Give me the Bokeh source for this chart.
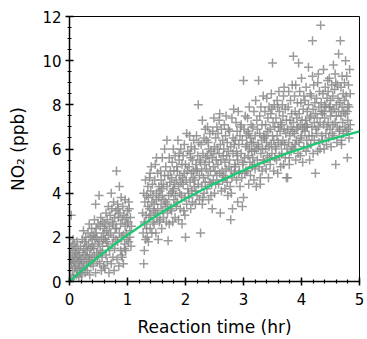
from bokeh.plotting import figure
from bokeh.models import Range1d, SingleIntervalTicker
from bokeh.embed import file_html
from bokeh.resources import INLINE

# ---- scatter data: segment A (0 - 1.1 hr)
xa = [0.01,0.02,0.03,0.03,0.04,0.05,0.05,0.06,0.07,0.07,0.08,0.09,0.09,0.10,0.02,0.06,
      0.11,0.11,0.12,0.13,0.13,0.14,0.15,0.15,0.16,0.17,0.17,0.18,0.19,0.19,0.20,
      0.21,0.21,0.22,0.23,0.23,0.24,0.25,0.25,0.26,0.27,0.27,0.28,0.29,0.29,0.30,
      0.31,0.31,0.32,0.33,0.33,0.34,0.35,0.35,0.36,0.37,0.37,0.38,0.39,0.39,0.40,0.34,
      0.41,0.41,0.42,0.43,0.43,0.44,0.45,0.45,0.46,0.47,0.47,0.48,0.49,0.49,0.50,0.44,
      0.51,0.51,0.52,0.53,0.53,0.54,0.55,0.55,0.56,0.57,0.57,0.58,0.59,0.59,0.60,0.56,
      0.61,0.61,0.62,0.63,0.63,0.64,0.65,0.65,0.66,0.67,0.67,0.68,0.69,0.69,0.70,0.64,
      0.71,0.72,0.72,0.73,0.74,0.74,0.75,0.76,0.76,0.77,0.78,0.78,0.79,0.80,0.80,0.75,
      0.81,0.81,0.82,0.83,0.83,0.84,0.85,0.86,0.86,0.87,0.88,0.88,0.89,0.90,0.90,0.84,
      0.91,0.91,0.92,0.93,0.93,0.94,0.95,0.96,0.96,0.97,0.98,0.98,0.99,1.00,1.00,0.95,
      1.01,1.02,1.03,1.04,1.05,1.06,1.07,1.02,1.04]
ya = [0.3,1.2,0.8,3.0,1.6,0.5,1.0,1.4,0.2,0.9,1.7,0.6,1.1,1.3,0.1,1.9,
      0.7,1.5,0.3,1.1,1.8,0.5,0.9,1.4,0.2,1.2,0.6,1.0,1.6,0.4,0.8,
      1.0,0.3,1.9,1.3,0.6,2.3,1.5,0.9,1.8,0.4,1.2,2.0,0.7,1.6,1.1,
      1.4,0.5,2.2,0.9,1.7,2.6,1.2,0.3,2.0,1.5,0.8,2.4,1.1,1.9,1.6,1.0,
      2.1,0.7,1.5,2.8,1.1,1.9,3.5,0.4,2.4,1.3,2.0,0.9,2.6,1.7,1.2,2.2,
      3.9,1.8,0.8,2.5,1.4,2.9,0.5,2.0,1.1,2.7,1.6,2.2,0.7,1.9,2.4,1.3,
      2.6,0.6,1.9,3.1,1.2,2.3,0.9,2.8,1.6,3.4,2.1,0.4,2.5,1.4,3.0,1.8,
      2.2,4.0,0.8,3.3,1.7,2.7,1.1,3.6,2.0,0.5,2.9,1.5,2.4,3.2,1.9,2.6,
      5.0,2.4,1.0,3.5,1.8,2.9,0.7,4.3,2.2,3.1,1.4,2.6,3.8,2.0,1.2,3.3,
      2.8,1.1,3.4,2.1,0.8,3.0,1.7,2.5,3.7,1.4,2.9,2.2,1.9,3.2,2.6,1.5,
      2.7,1.8,3.3,2.3,2.9,1.6,2.5,3.6,2.0]

# ---- segment B (1.25 - 2.55 hr)
xb = [1.26,1.27,1.28,1.28,1.29,1.29,1.30,1.31,1.31,1.32,1.33,1.33,1.34,1.35,1.35,1.30,
      1.36,1.36,1.37,1.38,1.38,1.39,1.40,1.40,1.41,1.42,1.42,1.43,1.44,1.44,1.45,1.39,
      1.46,1.46,1.47,1.48,1.48,1.49,1.50,1.50,1.51,1.52,1.52,1.53,1.54,1.54,1.55,1.50,
      1.56,1.56,1.57,1.58,1.58,1.59,1.60,1.60,1.61,1.62,1.62,1.63,1.64,1.64,1.65,1.59,
      1.66,1.66,1.67,1.68,1.68,1.69,1.70,1.70,1.71,1.72,1.72,1.73,1.74,1.74,1.75,1.69,
      1.76,1.76,1.77,1.78,1.78,1.79,1.80,1.80,1.81,1.82,1.82,1.83,1.84,1.84,1.85,1.79,
      1.86,1.86,1.87,1.88,1.88,1.89,1.90,1.90,1.91,1.92,1.92,1.93,1.94,1.94,1.95,1.89,
      1.96,1.96,1.97,1.98,1.98,1.99,2.00,2.00,2.01,2.02,2.02,2.03,2.04,2.04,2.05,1.99,
      2.06,2.06,2.07,2.08,2.08,2.09,2.10,2.10,2.11,2.12,2.12,2.13,2.14,2.14,2.15,2.09,
      2.16,2.16,2.17,2.18,2.18,2.19,2.20,2.20,2.21,2.22,2.22,2.23,2.24,2.24,2.25,2.19,
      2.26,2.26,2.27,2.28,2.28,2.29,2.30,2.30,2.31,2.32,2.32,2.33,2.34,2.34,2.35,2.29,
      2.36,2.36,2.37,2.38,2.38,2.39,2.40,2.40,2.41,2.42,2.42,2.43,2.44,2.44,2.45,2.39,
      2.46,2.46,2.47,2.48,2.48,2.49,2.50,2.50,2.51,2.52,2.52,2.53,2.54,2.54,2.55,2.49]
yb = [3.1,2.2,0.8,4.0,1.4,2.7,3.6,1.9,4.6,3.0,2.4,3.9,2.0,3.4,4.3,2.6,
      1.8,3.8,2.9,4.7,3.3,2.4,4.1,3.0,5.2,2.2,3.6,4.4,2.7,3.9,3.2,4.9,
      3.5,2.6,4.6,3.1,5.3,2.2,4.0,3.7,2.9,4.9,3.3,1.9,4.3,3.8,2.7,5.6,
      4.1,2.8,5.0,3.5,4.6,2.4,3.9,5.6,3.2,4.4,2.9,3.7,6.0,4.8,3.4,4.2,
      3.6,5.2,2.7,4.3,6.4,3.1,1.85,4.8,3.9,5.6,2.6,4.5,3.3,5.0,4.0,3.5,
      4.7,3.2,5.4,2.7,4.1,6.0,3.7,5.0,4.4,2.9,5.7,3.9,4.6,3.4,5.2,4.2,
      5.0,3.6,6.4,4.3,2.8,5.5,4.0,4.8,3.3,6.0,4.5,3.9,5.3,2.6,4.7,5.8,
      4.4,5.7,3.2,6.2,4.9,3.8,2.0,5.3,4.6,6.7,3.5,5.0,4.2,5.9,4.0,3.0,
      5.2,3.8,6.6,4.5,5.8,3.3,4.9,6.1,4.1,5.5,3.6,4.7,6.4,5.0,4.3,5.6,
      4.6,6.0,3.5,5.3,4.1,6.6,5.0,3.9,5.7,8.0,4.4,6.3,4.8,3.7,5.5,5.1,
      2.2,5.4,6.2,4.3,5.0,7.3,3.8,5.8,4.7,6.5,4.0,5.3,6.9,4.5,5.6,3.5,
      5.1,6.4,4.2,5.7,7.0,4.8,3.7,6.0,5.4,4.5,6.7,5.0,3.9,5.9,4.4,6.3,
      3.3,5.6,6.8,4.6,5.2,7.4,4.0,6.1,5.0,4.4,6.5,5.5,7.0,4.8,6.0,5.8]

# ---- segment C (2.55 - 3.75 hr)
xc = [2.56,2.56,2.57,2.58,2.58,2.59,2.60,2.60,2.61,2.62,2.62,2.63,2.64,2.64,2.65,2.59,
      2.66,2.66,2.67,2.68,2.68,2.69,2.70,2.70,2.71,2.72,2.72,2.73,2.74,2.74,2.75,2.69,
      2.76,2.76,2.77,2.78,2.78,2.79,2.80,2.80,2.81,2.82,2.82,2.83,2.84,2.84,2.85,2.79,
      2.86,2.86,2.87,2.88,2.88,2.89,2.90,2.90,2.91,2.92,2.92,2.93,2.94,2.94,2.95,2.89,
      2.96,2.96,2.97,2.98,2.98,2.99,3.00,3.00,3.01,3.02,3.02,3.03,3.04,3.04,3.05,2.99,
      3.06,3.06,3.07,3.08,3.08,3.09,3.10,3.10,3.11,3.12,3.12,3.13,3.14,3.14,3.15,3.09,
      3.16,3.16,3.17,3.18,3.18,3.19,3.20,3.20,3.21,3.22,3.22,3.23,3.24,3.24,3.25,3.19,
      3.26,3.26,3.27,3.28,3.28,3.29,3.30,3.30,3.31,3.32,3.32,3.33,3.34,3.34,3.35,3.29,
      3.36,3.36,3.37,3.38,3.38,3.39,3.40,3.40,3.41,3.42,3.42,3.43,3.44,3.44,3.45,3.39,
      3.46,3.46,3.47,3.48,3.48,3.49,3.50,3.50,3.51,3.52,3.52,3.53,3.54,3.54,3.55,3.49,
      3.56,3.56,3.57,3.58,3.58,3.59,3.60,3.60,3.61,3.62,3.62,3.63,3.64,3.64,3.65,3.59,
      3.66,3.66,3.67,3.68,3.68,3.69,3.70,3.70,3.71,3.72,3.72,3.73,3.74,3.74,3.75,3.69]
yc = [5.3,6.7,4.4,7.3,5.8,4.9,3.1,6.2,5.5,4.1,6.9,5.0,6.4,4.6,5.7,7.6,
      6.0,4.8,7.1,5.4,4.2,6.6,5.1,7.5,5.7,4.5,6.3,3.9,5.9,6.9,5.2,4.7,
      5.5,6.8,4.3,2.8,6.1,5.0,7.4,4.7,3.3,6.5,5.8,7.8,4.9,6.2,5.3,4.0,
      6.4,5.2,7.2,4.6,5.9,6.8,3.6,5.5,7.7,4.9,6.2,5.0,6.6,4.3,7.0,5.7,
      5.8,7.1,4.7,3.4,6.4,5.3,9.1,3.8,6.9,5.6,4.9,7.5,6.1,5.0,6.6,5.4,
      6.2,5.0,7.4,5.7,6.8,4.4,6.0,7.9,5.4,6.5,4.8,7.1,5.9,6.3,5.2,6.7,
      5.6,7.0,6.3,4.6,7.7,5.9,6.6,5.1,8.2,6.0,4.3,7.3,5.5,6.9,6.2,5.3,
      9.1,6.1,5.2,7.5,6.7,4.7,5.8,7.9,6.4,5.0,7.1,6.0,8.4,5.5,6.6,4.4,
      6.5,5.4,7.7,6.0,7.1,5.1,8.3,6.3,5.7,7.4,6.8,4.7,6.1,7.9,5.6,6.6,
      6.9,5.3,7.6,6.2,8.5,5.8,9.9,6.6,7.2,5.0,6.4,8.0,5.6,7.0,6.1,7.8,
      6.0,7.4,5.5,8.2,6.6,4.9,7.0,6.3,8.6,5.7,7.7,6.8,5.2,7.2,6.2,7.9,
      7.1,5.8,8.0,6.4,7.5,5.3,6.9,8.8,6.2,7.8,5.6,6.7,4.7,7.3,6.0,8.4]

# ---- segment D (3.75 - 4.85 hr)
xd = [3.76,3.76,3.77,3.78,3.78,3.79,3.80,3.80,3.81,3.82,3.82,3.83,3.84,3.84,3.85,3.79,
      3.86,3.86,3.87,3.88,3.88,3.89,3.90,3.90,3.91,3.92,3.92,3.93,3.94,3.94,3.95,3.89,
      3.96,3.96,3.97,3.98,3.98,3.99,4.00,4.00,4.01,4.02,4.02,4.03,4.04,4.04,4.05,3.99,
      4.06,4.06,4.07,4.08,4.08,4.09,4.10,4.10,4.11,4.12,4.12,4.13,4.14,4.14,4.15,4.09,
      4.16,4.16,4.17,4.18,4.18,4.19,4.20,4.20,4.21,4.22,4.22,4.23,4.24,4.24,4.25,4.19,
      4.26,4.26,4.27,4.28,4.28,4.29,4.30,4.30,4.31,4.32,4.32,4.33,4.34,4.34,4.35,4.29,
      4.36,4.36,4.37,4.38,4.38,4.39,4.40,4.40,4.41,4.42,4.42,4.43,4.44,4.44,4.45,4.39,
      4.46,4.46,4.47,4.48,4.48,4.49,4.50,4.50,4.51,4.52,4.52,4.53,4.54,4.54,4.55,4.49,
      4.56,4.56,4.57,4.58,4.58,4.59,4.60,4.60,4.61,4.62,4.62,4.63,4.64,4.64,4.65,4.59,
      4.66,4.66,4.67,4.68,4.68,4.69,4.70,4.70,4.71,4.72,4.72,4.73,4.74,4.74,4.75,4.69,
      4.76,4.76,4.77,4.78,4.78,4.79,4.80,4.80,4.81,4.82,4.82,4.83,4.84,4.84,4.79,4.81]
yd = [4.7,6.9,7.9,6.3,8.6,5.6,7.3,6.6,8.2,5.9,7.0,7.6,6.1,8.9,6.8,5.3,
      10.2,7.2,6.0,8.4,6.7,7.7,5.5,8.9,6.4,7.4,6.9,8.1,5.8,7.0,9.9,6.2,
      7.6,6.3,8.6,5.7,7.1,8.1,6.6,9.2,7.3,5.4,6.9,7.8,6.1,8.4,7.0,6.5,
      6.8,8.2,7.3,5.9,8.8,6.4,7.7,7.0,6.1,9.7,8.0,6.6,7.4,5.5,8.5,7.1,
      7.5,6.2,8.4,7.0,6.6,10.9,7.8,5.8,8.9,7.2,6.4,8.1,4.9,7.6,6.9,9.3,
      6.7,8.3,7.4,5.9,9.0,7.0,7.9,6.3,8.6,7.2,6.0,11.6,7.7,8.1,6.6,9.4,
      7.6,6.4,8.5,9.6,7.1,6.0,8.0,7.4,8.8,6.7,7.9,6.2,8.3,7.0,9.1,7.7,
      7.2,8.6,6.5,7.9,9.2,6.9,8.2,7.5,6.1,8.9,7.7,6.7,8.4,7.1,9.8,7.9,
      7.8,6.6,8.7,7.2,9.4,5.3,8.0,7.5,6.3,8.9,7.0,8.3,10.3,7.7,6.8,9.0,
      8.1,6.9,10.9,7.5,8.8,6.4,7.9,9.3,7.2,8.5,6.7,7.7,9.0,8.2,7.0,6.2,
      10.0,7.6,8.4,6.8,9.3,5.6,8.0,7.3,8.9,6.5,7.9,9.6,7.1,8.5,7.7,6.9]

# ---- fitted curve
fit_t = [0, 0.25, 0.5, 0.75, 1.0, 1.25, 1.5, 1.75, 2.0, 2.25, 2.5, 2.75, 3.0,
         3.25, 3.5, 3.75, 4.0, 4.25, 4.5, 4.75, 5.0]
fit_y = [0, 0.58, 1.12, 1.63, 2.11, 2.56, 2.98, 3.38, 3.75, 4.10, 4.43, 4.74, 5.03,
         5.30, 5.56, 5.80, 6.02, 6.24, 6.44, 6.62, 6.80]

x_ticks = [0, 1, 2, 3, 4, 5]
y_ticks = [0, 2, 4, 6, 8, 10, 12]

FONT = "DejaVu Sans"

p = figure(width=367, height=339, output_backend="svg", toolbar_location=None,
           x_range=Range1d(0, 5), y_range=Range1d(0, 12),
           min_border_left=69, min_border_right=8, min_border_top=16, min_border_bottom=58)

xs = xa + xb + xc + xd
ys = ya + yb + yc + yd
p.scatter(xs, ys, marker="cross", size=9, line_color="#8a8a8a", line_width=1.5, line_alpha=0.85)
p.line(fit_t, fit_y, line_color="#1ec872", line_width=2.4)

p.xgrid.visible = False
p.ygrid.visible = False
p.outline_line_color = "black"
p.outline_line_width = 1
p.outline_line_alpha = 1

p.xaxis.ticker = SingleIntervalTicker(interval=1, num_minor_ticks=5)
p.yaxis.ticker = SingleIntervalTicker(interval=2, num_minor_ticks=4)

p.xaxis.axis_label = "Reaction time (hr)"
p.yaxis.axis_label = "NO\u2082 (ppb)"

for ax in (p.xaxis, p.yaxis):
    ax.axis_line_color = "black"
    ax.axis_line_width = 1.5
    ax.major_tick_line_color = "black"
    ax.minor_tick_line_color = "black"
    ax.major_tick_line_width = 1.5
    ax.minor_tick_line_width = 1.2
    ax.major_tick_in = 4
    ax.major_tick_out = 4
    ax.minor_tick_in = 2
    ax.minor_tick_out = 2
    ax.major_label_text_font = FONT
    ax.major_label_text_font_size = "15px"
    ax.major_label_text_color = "black"
    ax.axis_label_text_font = FONT
    ax.axis_label_text_font_size = "17px"
    ax.axis_label_text_font_style = "normal"
    ax.axis_label_text_color = "black"

p.xaxis.major_label_standoff = 7
p.xaxis.axis_label_standoff = 9
p.yaxis.major_label_standoff = 4
p.yaxis.axis_label_standoff = 11

open("out.html", "w").write(file_html(p, INLINE))
